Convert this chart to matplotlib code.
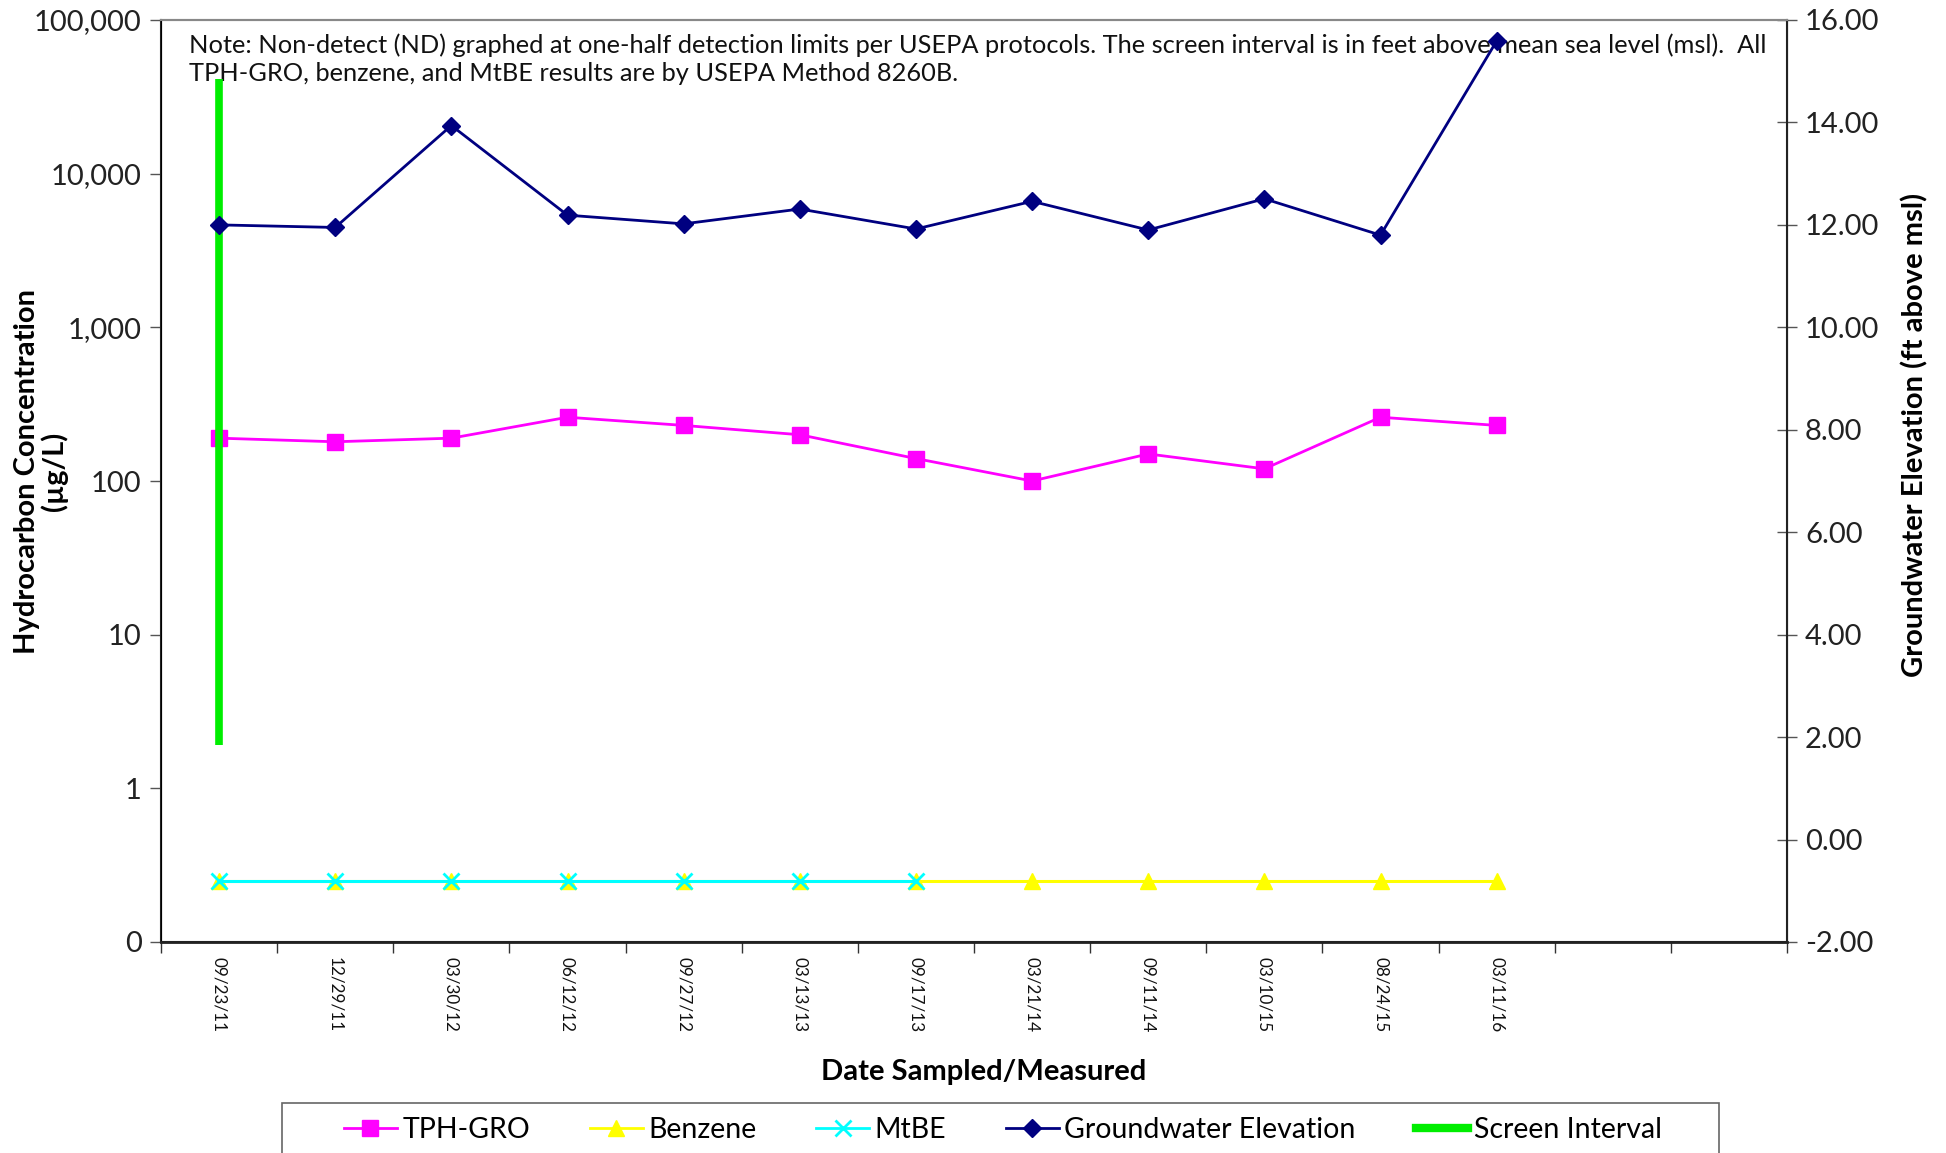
import matplotlib
matplotlib.use("Agg")
import matplotlib.pyplot as plt
from matplotlib.ticker import FixedLocator, FixedFormatter, NullFormatter
from matplotlib.lines import Line2D
from matplotlib.patches import Rectangle

plt.rcParams['font.family'] = ['Lato', 'DejaVu Sans']

# ---------------- data ----------------
dates = ["09/23/11", "12/29/11", "03/30/12", "06/12/12", "09/27/12", "03/13/13",
         "09/17/13", "03/21/14", "09/11/14", "03/10/15", "08/24/15", "03/11/16"]
n_slots = 14  # category slots on the x axis (two trailing empty)

tph_gro = [190, 180, 190, 260, 230, 200, 140, 100, 150, 120, 260, 230]
benzene = [0.25] * 12
mtbe = [0.25] * 7
gw_elev = [12.00, 11.95, 13.94, 12.19, 12.02, 12.31, 11.92, 12.46, 11.90, 12.51, 11.80, 15.59]
screen_top = 14.84
screen_bottom = 1.84

left_ticks = [0.1, 1, 10, 100, 1000, 10000, 100000]
left_labels = ["0", "1", "10", "100", "1,000", "10,000", "100,000"]
right_ticks = [-2, 0, 2, 4, 6, 8, 10, 12, 14, 16]

note = ("Note: Non-detect (ND) graphed at one-half detection limits per USEPA protocols. "
        "The screen interval is in feet above mean sea level (msl).  All\n"
        "TPH-GRO, benzene, and MtBE results are by USEPA Method 8260B.")

# ---------------- figure ----------------
fig = plt.figure(figsize=(19.46, 11.53), dpi=100)
ax = fig.add_axes([161/1946, 1-942/1153, (1787-161)/1946, (942-20)/1153])
ax2 = ax.twinx()

x = list(range(len(dates)))

ax.plot(x, tph_gro, color='#FF00FF', marker='s', markersize=12, lw=2, label='TPH-GRO', zorder=3)
ax.plot(x, benzene, color='#FFFF00', marker='^', markersize=12, lw=2.2, label='Benzene', zorder=3)
ax.plot(list(range(len(mtbe))), mtbe, color='#00FFFF', marker='x', markersize=11, mew=2,
        lw=2.2, label='MtBE', zorder=4)

ax2.plot([0, 0], [screen_bottom, screen_top], color='#00EE00', lw=5.5, solid_capstyle='butt',
         label='Screen Interval', zorder=2)
ax2.plot(x, gw_elev, color='#000080', marker='D', markersize=9.5, lw=2,
         label='Groundwater Elevation', zorder=3)

# axes scales
ax.set_yscale('log')
ax.set_ylim(0.1, 100000)
ax.yaxis.set_major_locator(FixedLocator(left_ticks))
ax.yaxis.set_major_formatter(FixedFormatter(left_labels))
ax.yaxis.set_minor_locator(FixedLocator([]))
ax2.set_ylim(-2, 16)
ax2.set_yticks(right_ticks)
ax2.set_yticklabels([f"{v:.2f}" for v in right_ticks])

ax.set_xlim(-0.5, n_slots - 0.5)
ax.xaxis.set_major_locator(FixedLocator([i - 0.5 for i in range(n_slots + 1)]))
ax.xaxis.set_major_formatter(NullFormatter())
ax.xaxis.set_minor_locator(FixedLocator(x))
ax.xaxis.set_minor_formatter(FixedFormatter(dates))
ax.tick_params(axis='x', which='major', direction='out', length=8, width=1, color='#333333')
ax.tick_params(axis='x', which='minor', length=0, pad=11, labelsize=12.3, labelrotation=270,
               labelcolor='#111111')
ax.tick_params(axis='y', which='major', direction='out', length=8, width=1, color='#555555',
               labelsize=21, labelcolor='#222222', pad=6)
ax2.tick_params(axis='y', direction='inout', length=14, width=1, color='#555555',
                labelsize=21, labelcolor='#222222', pad=6)

for side in ['left', 'bottom']:
    ax.spines[side].set_color('#222222')
    ax.spines[side].set_linewidth(1.5)
ax2.spines['right'].set_color('#222222')
ax2.spines['right'].set_linewidth(1.5)
ax.spines['top'].set_color('#888888')
ax.spines['top'].set_linewidth(1.5)
ax2.spines['top'].set_color('#888888')
ax2.spines['top'].set_linewidth(1.5)
ax2.spines['bottom'].set_color('#222222')
ax2.spines['bottom'].set_linewidth(2)

ax.set_ylabel("Hydrocarbon Concentration\n(µg/L)", fontsize=21, fontweight='bold',
              linespacing=1.05)
ax.yaxis.set_label_coords(-0.057, 0.51)
ax2.set_ylabel("Groundwater Elevation (ft above msl)", fontsize=21, fontweight='bold')
ax2.yaxis.set_label_coords(1.070, 0.55)
ax.set_xlabel("Date Sampled/Measured", fontsize=21, fontweight='bold')
ax.xaxis.set_label_coords(0.506, -0.127)

ax.text(0.017, 0.986, note, transform=ax.transAxes, ha='left', va='top', fontsize=18.3,
        color='#111111', linespacing=1.3, zorder=10)

# legend (frame drawn separately so it runs off the bottom edge like the reference)
fig.patches.append(Rectangle((282/1946, -0.05), (1719-282)/1946, 1-1103/1153+0.05,
                             transform=fig.transFigure, facecolor='white',
                             edgecolor='#666666', linewidth=1.2, zorder=0))
handles = [
    Line2D([], [], color='#FF00FF', marker='s', markersize=12, lw=2),
    Line2D([], [], color='#FFFF00', marker='^', markersize=12, lw=2),
    Line2D([], [], color='#00FFFF', marker='x', markersize=11, mew=2, lw=2),
    Line2D([], [], color='#000080', marker='D', markersize=9.5, lw=2),
    Line2D([], [], color='#00EE00', lw=6),
]
labels = ['TPH-GRO', 'Benzene', 'MtBE', 'Groundwater Elevation', 'Screen Interval']
leg = fig.legend(handles, labels, loc='center left', bbox_to_anchor=(344/1946, 1-1130/1153),
                 ncol=5, fontsize=20.5, frameon=False,
                 handlelength=1.85, handletextpad=0.2, columnspacing=2.1, borderpad=0,
                 borderaxespad=0)

fig.savefig("out.png", dpi=100)
